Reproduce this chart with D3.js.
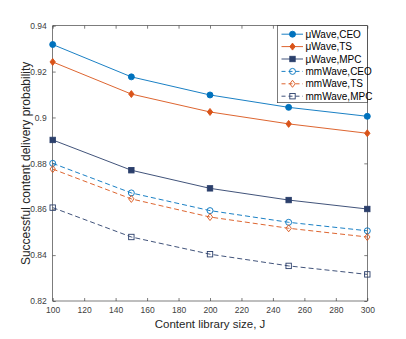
<!DOCTYPE html>
<html>
<head>
<meta charset="utf-8">
<script src="https://cdn.jsdelivr.net/npm/d3@7"></script>
<style>
  body { margin: 0; background: #fff; }
  svg { font-family: "Liberation Sans", Arial, sans-serif; }
</style>
</head>
<body>
<svg id="chart" width="406" height="339"></svg>
<script>
// data
var librarySizes = [100, 150, 200, 250, 300];
var seriesNames = ["\u03bcWave,CEO", "\u03bcWave,TS", "\u03bcWave,MPC", "mmWave,CEO", "mmWave,TS", "mmWave,MPC"];
var muCEO  = [0.9318, 0.9177, 0.9098, 0.9044, 0.9005];
var muTS   = [0.9242, 0.9102, 0.9024, 0.8972, 0.8931];
var muMPC  = [0.8902, 0.8770, 0.8691, 0.8640, 0.8601];
var mmCEO  = [0.8800, 0.8671, 0.8594, 0.8543, 0.8506];
var mmTS   = [0.8775, 0.8645, 0.8566, 0.8517, 0.8479];
var mmMPC  = [0.8607, 0.8479, 0.8404, 0.8353, 0.8316];
var xTicks = [100, 120, 140, 160, 180, 200, 220, 240, 260, 280, 300];
var yTicks = [0.82, 0.84, 0.86, 0.88, 0.9, 0.92, 0.94];
var yTickLabels = ["0.82", "0.84", "0.86", "0.88", "0.9", "0.92", "0.94"];

var blue = "#0072BD", orange = "#D95319", navy = "#2B3F6B";
var series = [
  { name: seriesNames[0], vals: muCEO, color: blue,   marker: "circle",  filled: true,  dash: null },
  { name: seriesNames[1], vals: muTS,  color: orange, marker: "diamond", filled: true,  dash: null },
  { name: seriesNames[2], vals: muMPC, color: navy,   marker: "square",  filled: true,  dash: null },
  { name: seriesNames[3], vals: mmCEO, color: blue,   marker: "circle",  filled: false, dash: "5,3" },
  { name: seriesNames[4], vals: mmTS,  color: orange, marker: "diamond", filled: false, dash: "5,3" },
  { name: seriesNames[5], vals: mmMPC, color: navy,   marker: "square",  filled: false, dash: "5,3" }
];

var svg = d3.select("#chart");
var pLeft = 52.7, pRight = 367.3, pTop = 25.7, pBottom = 301;

var x = d3.scaleLinear().domain([100, 300]).range([pLeft, pRight]);
var y = d3.scaleLinear().domain([0.82, 0.94]).range([pBottom, pTop]);

var axisColor = "#262626";
var labelColor = "#404040";

// axes box
svg.append("rect")
  .attr("x", pLeft).attr("y", pTop)
  .attr("width", pRight - pLeft).attr("height", pBottom - pTop)
  .attr("fill", "none").attr("stroke", axisColor).attr("stroke-width", 0.6);

var xAxis = svg.append("g").attr("transform", "translate(0," + pBottom + ")")
  .call(d3.axisBottom(x).tickValues(xTicks).tickSizeInner(-3).tickSizeOuter(0).tickPadding(6));
var xTop = svg.append("g").attr("transform", "translate(0," + pTop + ")")
  .call(d3.axisTop(x).tickValues(xTicks).tickSizeInner(-3).tickSizeOuter(0).tickFormat(""));
var yAxis = svg.append("g").attr("transform", "translate(" + pLeft + ",0)")
  .call(d3.axisLeft(y).tickValues(yTicks).tickSizeInner(-3).tickSizeOuter(0).tickPadding(6)
    .tickFormat(function(d, i) { return yTickLabels[i]; }));
var yRight = svg.append("g").attr("transform", "translate(" + pRight + ",0)")
  .call(d3.axisRight(y).tickValues(yTicks).tickSizeInner(-3).tickSizeOuter(0).tickFormat(""));

[xAxis, xTop, yAxis, yRight].forEach(function(g) {
  g.select(".domain").remove();
  g.selectAll(".tick line").attr("stroke", axisColor).attr("stroke-width", 0.6);
  g.selectAll("text").attr("fill", labelColor).style("font-size", "8.5px")
    .style("font-family", "'Liberation Sans', Arial, sans-serif");
});

// lines
var line = d3.line()
  .x(function(d, i) { return x(librarySizes[i]); })
  .y(function(d) { return y(d); });

function drawMarker(g, type, cx, cy, color, filled) {
  var r = 2.7;
  var m;
  if (type === "circle") {
    m = g.append("circle").attr("cx", cx).attr("cy", cy).attr("r", 3);
  } else if (type === "diamond") {
    var dr = 3.5;
    m = g.append("path").attr("d", "M" + cx + "," + (cy - dr) + "L" + (cx + 2.7) + "," + cy +
      "L" + cx + "," + (cy + dr) + "L" + (cx - 2.7) + "," + cy + "Z");
  } else {
    m = g.append("rect").attr("x", cx - r).attr("y", cy - r).attr("width", 2 * r).attr("height", 2 * r);
  }
  m.attr("fill", filled ? color : "none").attr("stroke", color).attr("stroke-width", 0.9);
}

series.forEach(function(s) {
  var g = svg.append("g");
  g.append("path").datum(s.vals)
    .attr("d", line)
    .attr("fill", "none")
    .attr("stroke", s.color)
    .attr("stroke-width", 0.9)
    .attr("stroke-dasharray", s.dash);
  s.vals.forEach(function(v, i) {
    drawMarker(g, s.marker, x(librarySizes[i]), y(v), s.color, s.filled);
  });
});

// legend
var lgX = 277.5, lgY = 25.7, lgW = 89.8, lgH = 77, rowH = 12.4;
var lg = svg.append("g");
lg.append("rect").attr("x", lgX).attr("y", lgY).attr("width", lgW).attr("height", lgH)
  .attr("fill", "#fff").attr("stroke", axisColor).attr("stroke-width", 0.6);
series.forEach(function(s, i) {
  var cy = lgY + 8.5 + i * rowH;
  lg.append("line").attr("x1", lgX + 4).attr("x2", lgX + 25.5).attr("y1", cy).attr("y2", cy)
    .attr("stroke", s.color).attr("stroke-width", 0.9).attr("stroke-dasharray", s.dash ? "4,3" : null);
  drawMarker(lg, s.marker, lgX + 15, cy, s.color, s.filled);
  lg.append("text").attr("x", lgX + 28).attr("y", cy + 3.6)
    .attr("fill", "#000").style("font-size", "10px").text(s.name);
});

// axis titles
svg.append("text")
  .attr("x", (pLeft + pRight) / 2).attr("y", 328)
  .attr("text-anchor", "middle").attr("fill", "#262626").style("font-size", "11.5px")
  .text("Content library size, J");

svg.append("text")
  .attr("transform", "translate(30," + ((pTop + pBottom) / 2) + ") rotate(-90)")
  .attr("text-anchor", "middle").attr("fill", "#262626").style("font-size", "12px")
  .text("Successful content delivery probability");
</script>
</body>
</html>
